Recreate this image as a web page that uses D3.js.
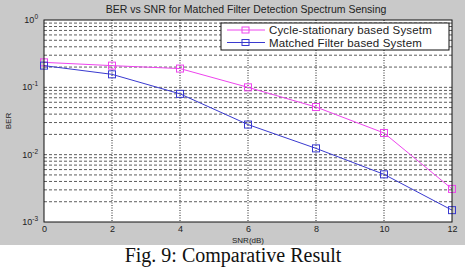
<!DOCTYPE html>
<html lang="en">
<head>
  <meta charset="UTF-8">
  <title>BER vs SNR</title>
  <script src="https://cdn.jsdelivr.net/npm/d3@7"></script>
  <style>
    html, body { margin: 0; padding: 0; background: #fff; }
    svg { display: block; }
  </style>
</head>
<body>
  <svg id="chart" width="465" height="267"></svg>
  <script>
    // values
    const snr = [0, 2, 4, 6, 8, 10, 12];
    const cycloBer = [0.235, 0.21, 0.19, 0.10, 0.051, 0.021, 0.0031];
    const matchedBer = [0.21, 0.156, 0.080, 0.028, 0.0124, 0.0051, 0.0015];
    const seriesNames = ['Cycle-stationary based Sysetm', 'Matched Filter based System'];
    const xTicks = [0, 2, 4, 6, 8, 10, 12];
    const yExps = [0, -1, -2, -3];

    const svg = d3.select('#chart');
    const m = {left: 44, right: 452, top: 20, bottom: 222};

    // grey figure background
    svg.append('rect').attr('x', 0).attr('y', 0).attr('width', 465).attr('height', 245)
      .attr('fill', '#c9c9c9');
    svg.append('rect').attr('x', m.left).attr('y', m.top)
      .attr('width', m.right - m.left).attr('height', m.bottom - m.top).attr('fill', '#fff');

    const x = d3.scaleLinear().domain([0, 12]).range([m.left, m.right]);
    const y = d3.scaleLog().domain([1e-3, 1]).range([m.bottom, m.top]);

    // grid
    const grid = svg.append('g');
    const yGrid = [];
    for (let e = -3; e < 0; e++) {
      for (let k = 1; k <= 9; k++) yGrid.push(k * Math.pow(10, e));
    }
    grid.selectAll('line.h').data(yGrid.filter(v => v > 1e-3)).enter().append('line')
      .attr('x1', m.left).attr('x2', m.right)
      .attr('y1', d => y(d)).attr('y2', d => y(d))
      .attr('stroke', '#333').attr('stroke-width', 0.8)
      .attr('stroke-dasharray', '3,2');
    grid.selectAll('line.v').data(xTicks.slice(1, -1)).enter().append('line')
      .attr('y1', m.top).attr('y2', m.bottom)
      .attr('x1', d => x(d)).attr('x2', d => x(d))
      .attr('stroke', '#222').attr('stroke-width', 1)
      .attr('stroke-dasharray', '1,1.5');

    // series
    const line = d3.line().x((d, i) => x(snr[i])).y(d => y(d));
    const series = [
      {vals: cycloBer, color: '#ee44ee'},
      {vals: matchedBer, color: '#3a3ad0'}
    ];
    series.forEach(s => {
      svg.append('path').attr('d', line(s.vals)).attr('fill', 'none')
        .attr('stroke', s.color).attr('stroke-width', 1);
      svg.selectAll(null).data(s.vals).enter().append('rect')
        .attr('x', (d, i) => x(snr[i]) - 3.5).attr('y', d => y(d) - 3.5)
        .attr('width', 7).attr('height', 7)
        .attr('fill', 'none').attr('stroke', s.color).attr('stroke-width', 1);
    });

    // box
    svg.append('rect').attr('x', m.left).attr('y', m.top)
      .attr('width', m.right - m.left).attr('height', m.bottom - m.top)
      .attr('fill', 'none').attr('stroke', '#111').attr('stroke-width', 1);

    // x axis ticks and labels
    const xAxis = svg.append('g').attr('transform', `translate(0,${m.bottom})`)
      .call(d3.axisBottom(x).tickValues(xTicks).tickSize(0).tickPadding(4));
    xAxis.select('.domain').remove();
    xAxis.selectAll('text').attr('font-family', 'Liberation Sans, Arial, sans-serif')
      .attr('font-size', 9).attr('fill', '#222');

    // y labels 10^n
    const yl = svg.append('g');
    yExps.forEach(e => {
      const t = yl.append('text').attr('x', 38).attr('y', y(Math.pow(10, e)) + 3)
        .attr('text-anchor', 'end').attr('font-family', 'Liberation Sans, Arial, sans-serif')
        .attr('font-size', 9).attr('fill', '#222');
      t.append('tspan').text('10');
      t.append('tspan').attr('dy', -4).attr('font-size', 6.5).text(e);
    });

    // axis titles
    svg.append('text').attr('x', (m.left + m.right) / 2).attr('y', 243)
      .attr('text-anchor', 'middle').attr('font-family', 'Liberation Sans, Arial, sans-serif')
      .attr('font-size', 8).attr('fill', '#222').text('SNR(dB)');
    svg.append('text').attr('transform', `translate(11,${(m.top + m.bottom) / 2}) rotate(-90)`)
      .attr('text-anchor', 'middle').attr('font-family', 'Liberation Sans, Arial, sans-serif')
      .attr('font-size', 8).attr('fill', '#222').text('BER');
    svg.append('text').attr('x', 246).attr('y', 13)
      .attr('text-anchor', 'middle').attr('font-family', 'Liberation Sans, Arial, sans-serif')
      .attr('font-size', 10.5).attr('fill', '#222')
      .text('BER vs SNR for Matched Filter Detection Spectrum Sensing');

    // legend
    const lg = svg.append('g');
    lg.append('rect').attr('x', 221).attr('y', 23).attr('width', 228).attr('height', 27)
      .attr('fill', '#fff').attr('stroke', '#111').attr('stroke-width', 1);
    series.forEach((s, i) => {
      const ly = 30 + i * 12.5;
      lg.append('line').attr('x1', 227).attr('x2', 265).attr('y1', ly).attr('y2', ly)
        .attr('stroke', s.color).attr('stroke-width', 1);
      lg.append('rect').attr('x', 242).attr('y', ly - 3).attr('width', 7).attr('height', 6)
        .attr('fill', 'none').attr('stroke', s.color);
      lg.append('text').attr('x', 269).attr('y', ly + 4)
        .attr('font-family', 'Liberation Sans, Arial, sans-serif').attr('font-size', 11.5)
        .attr('letter-spacing', 0.15)
        .attr('fill', '#222').text(seriesNames[i]);
    });

    // caption
    svg.append('text').attr('x', 233).attr('y', 262).attr('text-anchor', 'middle')
      .attr('font-family', 'Liberation Serif, Times New Roman, serif').attr('font-size', 20)
      .attr('fill', '#111').text('Fig. 9: Comparative Result');
  </script>
</body>
</html>
